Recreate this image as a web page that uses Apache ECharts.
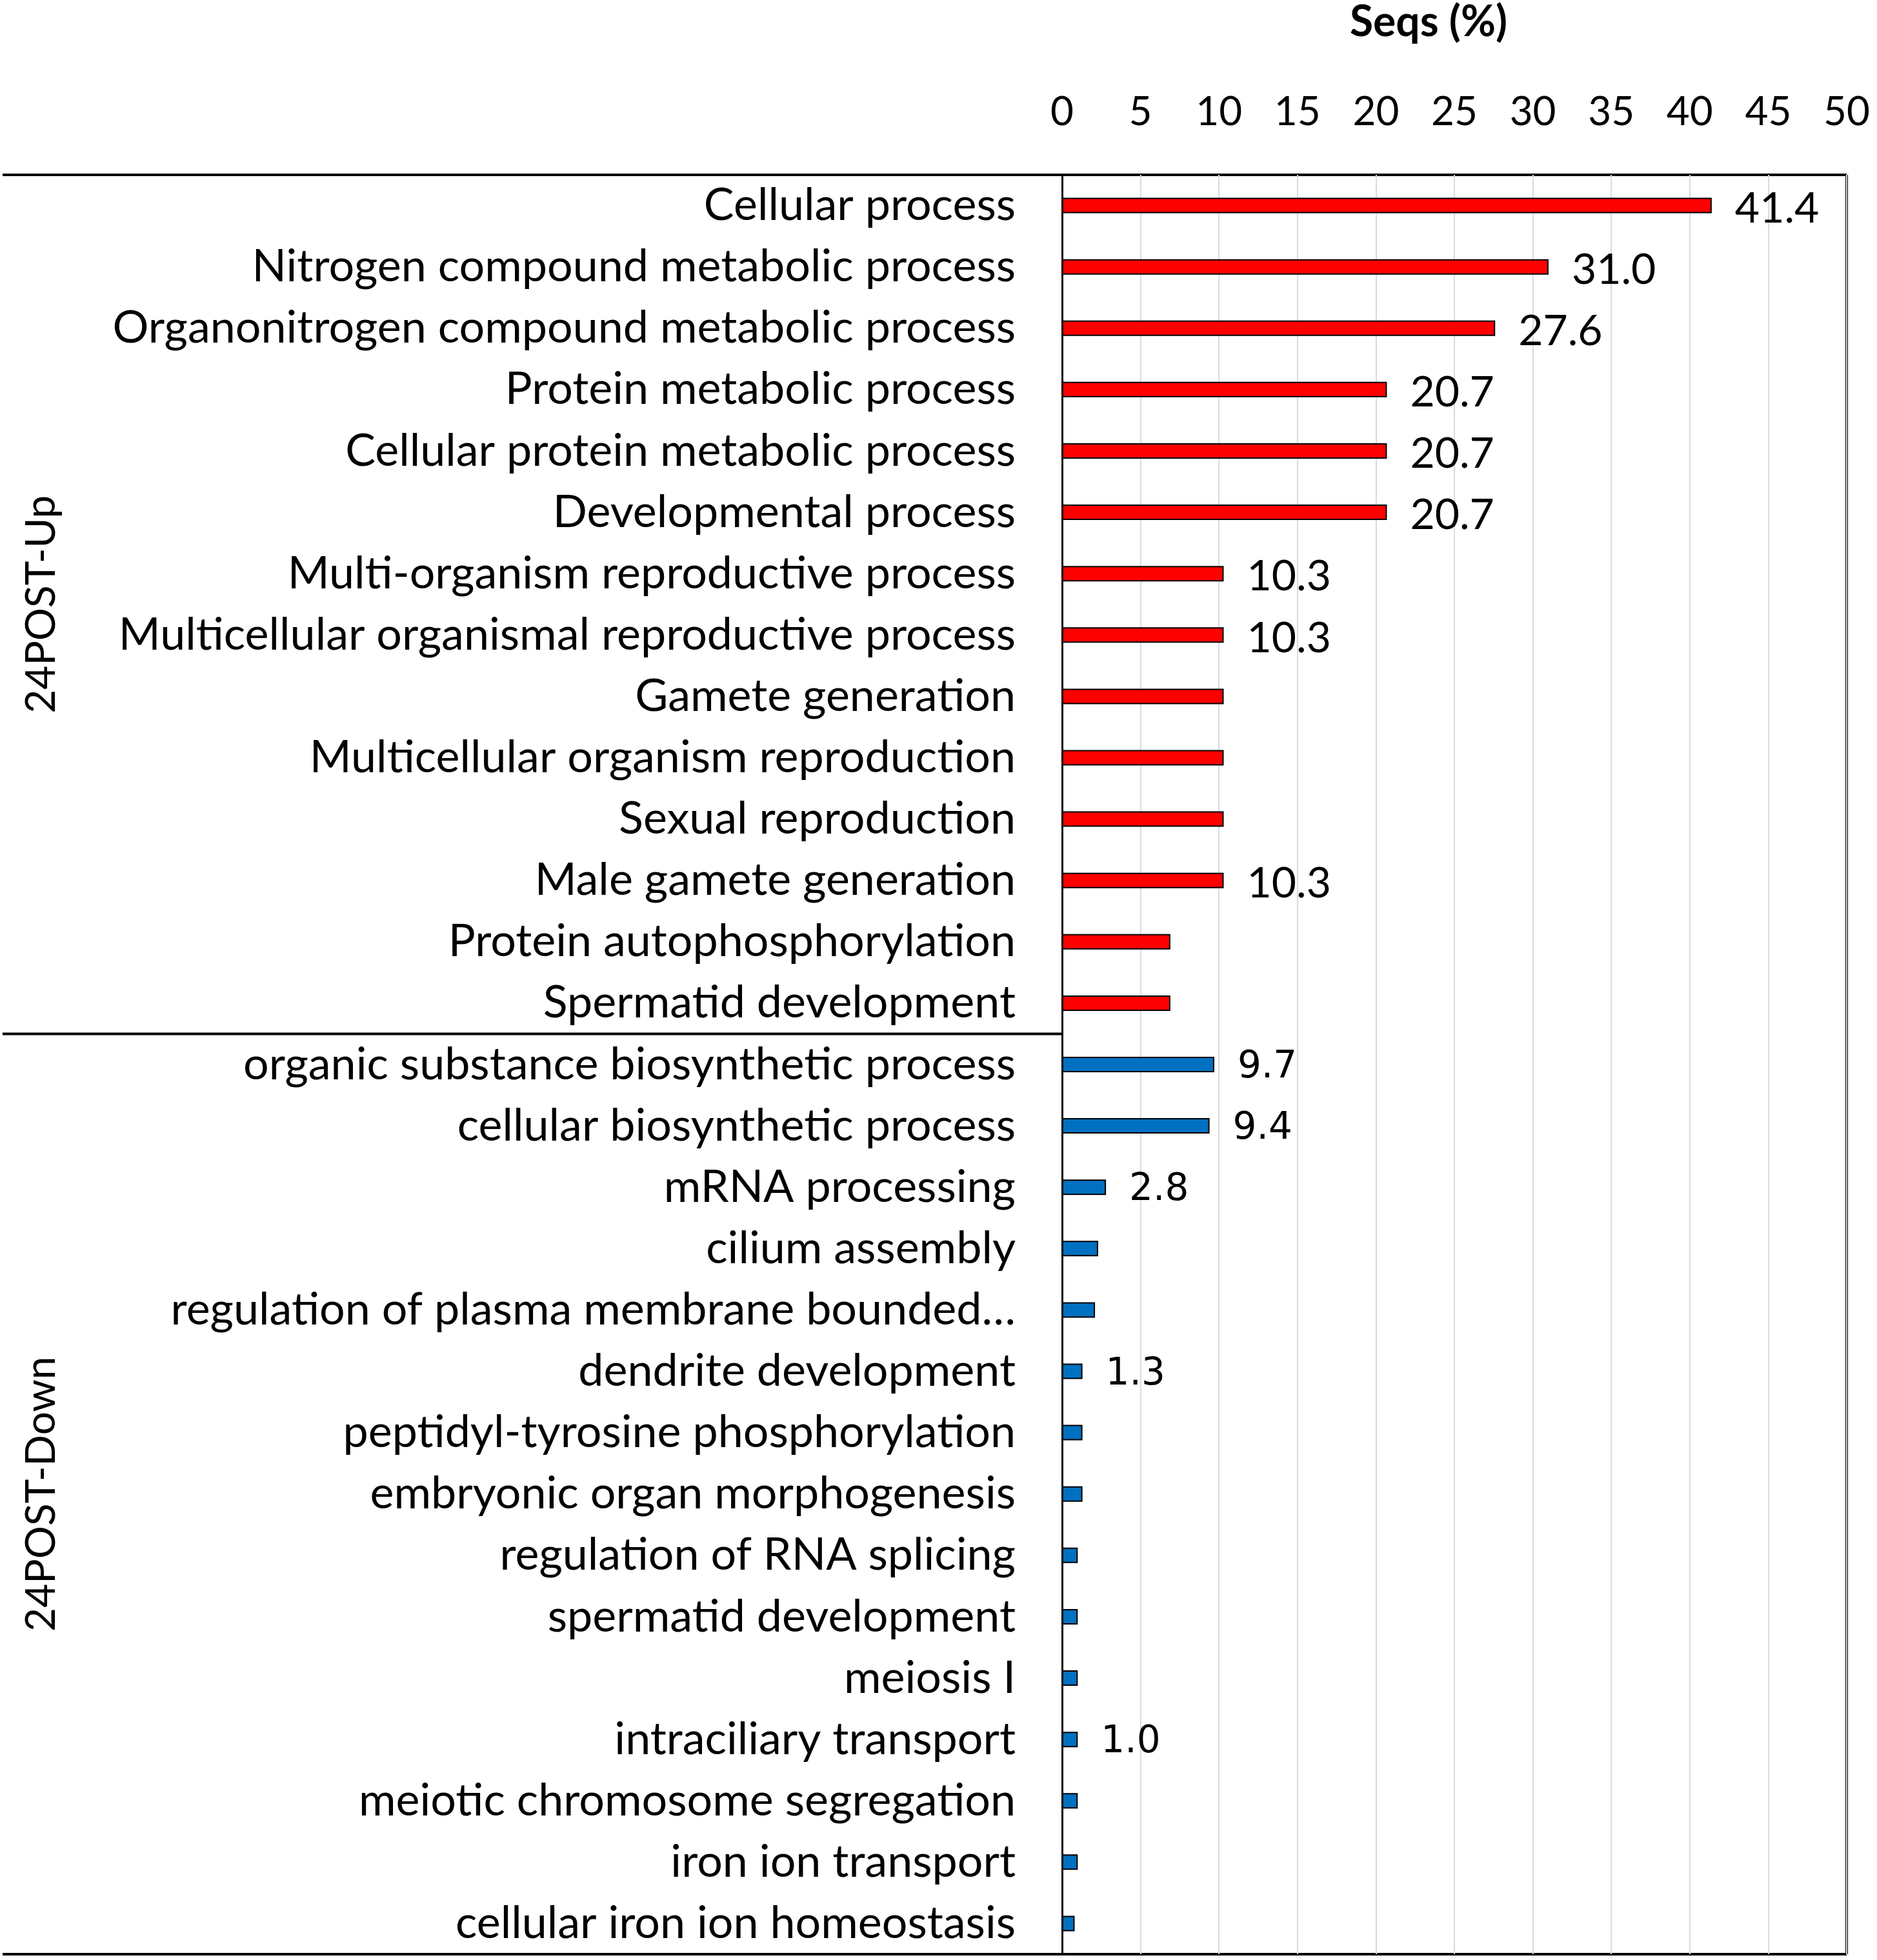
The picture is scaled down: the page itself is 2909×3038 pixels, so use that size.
<!DOCTYPE html>
<html lang="en">
<head>
    <meta charset="UTF-8">
    <title>Seqs (%)</title>
    <style>
        body { margin: 0; background: #fff; }
        #container { width: 2909px; height: 3038px; }
    </style>
</head>
<body>
<div id="container"></div>
<script src="https://cdn.jsdelivr.net/npm/echarts@6/dist/echarts.min.js"></script>
<script>
    // 24POST-Up group
    var upCategories = [
        'Cellular process',
        'Nitrogen compound metabolic process',
        'Organonitrogen compound metabolic process',
        'Protein metabolic process',
        'Cellular protein metabolic process',
        'Developmental process',
        'Multi-organism reproductive process',
        'Multicellular organismal reproductive process',
        'Gamete generation',
        'Multicellular organism reproduction',
        'Sexual reproduction',
        'Male gamete generation',
        'Protein autophosphorylation',
        'Spermatid development'
    ];
    var upValues = [41.4, 31.0, 27.6, 20.7, 20.7, 20.7, 10.3, 10.3, 10.3, 10.3, 10.3, 10.3, 6.9, 6.9];
    var upLabeled = [true, true, true, true, true, true, true, true, false, false, false, true, false, false];

    // 24POST-Down group
    var downCategories = [
        'organic substance biosynthetic process',
        'cellular biosynthetic process',
        'mRNA processing',
        'cilium assembly',
        'regulation of plasma membrane bounded…',
        'dendrite development',
        'peptidyl-tyrosine phosphorylation',
        'embryonic organ morphogenesis',
        'regulation of RNA splicing',
        'spermatid development',
        'meiosis I',
        'intraciliary transport',
        'meiotic chromosome segregation',
        'iron ion transport',
        'cellular iron ion homeostasis'
    ];
    var downValues = [9.7, 9.4, 2.8, 2.3, 2.1, 1.3, 1.3, 1.3, 1.0, 1.0, 1.0, 1.0, 1.0, 1.0, 0.8];
    var downLabeled = [true, true, true, false, false, true, false, false, false, false, false, true, false, false, false];

    var xTicks = [0, 5, 10, 15, 20, 25, 30, 35, 40, 45, 50];
    var groupNames = ['24POST-Up', '24POST-Down'];

    // layout
    var W = 2909, H = 3038;
    var gLeft = 1646, gRight = 2862, gTop = 271, gBottom = 3029;
    var rowH = (gBottom - gTop) / (upCategories.length + downCategories.length);
    var splitY = gTop + rowH * upCategories.length;

    var categories = upCategories.concat(downCategories);
    var data = [];
    upValues.forEach(function (v, i) {
        data.push({
            value: v,
            itemStyle: { color: '#ff0000' },
            label: { show: upLabeled[i], fontFamily: 'Lato', fontSize: 66 }
        });
    });
    downValues.forEach(function (v, i) {
        data.push({
            value: v,
            itemStyle: { color: '#0070c0' },
            label: { show: downLabeled[i], fontFamily: 'DejaVu Sans', fontSize: 58 }
        });
    });

    var myChart = echarts.init(document.getElementById('container'), null, { renderer: 'canvas' });
    var option = {
        backgroundColor: '#fff',
        animation: false,
        grid: {
            left: gLeft,
            right: W - gRight,
            top: gTop,
            bottom: H - gBottom,
            containLabel: false
        },
        xAxis: {
            type: 'value',
            position: 'top',
            min: xTicks[0],
            max: xTicks[xTicks.length - 1],
            interval: 5,
            axisLine: { show: false },
            axisTick: { show: false },
            axisLabel: { fontFamily: 'Lato', fontSize: 62, color: '#000', margin: 66 },
            splitLine: { show: true, lineStyle: { color: '#d6dce5', width: 2 } }
        },
        yAxis: {
            type: 'category',
            inverse: true,
            data: categories,
            axisLine: { show: true, lineStyle: { color: '#000', width: 3 } },
            axisTick: { show: false },
            axisLabel: { fontFamily: 'Lato', fontSize: 70, color: '#000', margin: 72 }
        },
        series: [{
            type: 'bar',
            data: data,
            barWidth: 24,
            itemStyle: { borderColor: '#000', borderWidth: 2 },
            label: {
                position: 'right',
                distance: 36,
                color: '#000',
                offset: [0, 5],
                formatter: function (p) { return p.value.toFixed(1); }
            }
        }],
        graphic: [
            { type: 'line', shape: { x1: 4, y1: gTop, x2: gRight, y2: gTop }, style: { stroke: '#000', lineWidth: 4 } },
            { type: 'line', shape: { x1: 4, y1: gBottom, x2: gRight, y2: gBottom }, style: { stroke: '#000', lineWidth: 4 } },
            { type: 'line', shape: { x1: gRight, y1: gTop, x2: gRight, y2: gBottom }, style: { stroke: '#000', lineWidth: 4 } },
            { type: 'line', shape: { x1: 4, y1: splitY, x2: gLeft, y2: splitY }, style: { stroke: '#000', lineWidth: 4 } },
            {
                type: 'text', x: 2214, y: 35,
                style: { text: 'Seqs (%)', font: 'bold 66px Lato', fill: '#000', align: 'center', verticalAlign: 'middle' }
            },
            {
                type: 'text', x: 64, y: (gTop + splitY) / 2, rotation: Math.PI / 2,
                style: { text: groupNames[0], font: '64px Lato', fill: '#000', align: 'center', verticalAlign: 'middle' }
            },
            {
                type: 'text', x: 64, y: (splitY + gBottom) / 2, rotation: Math.PI / 2,
                style: { text: groupNames[1], font: '64px Lato', fill: '#000', align: 'center', verticalAlign: 'middle' }
            }
        ]
    };

    if (option && typeof option === "object") {
        myChart.setOption(option, true);
    }
</script>
</body>
</html>
